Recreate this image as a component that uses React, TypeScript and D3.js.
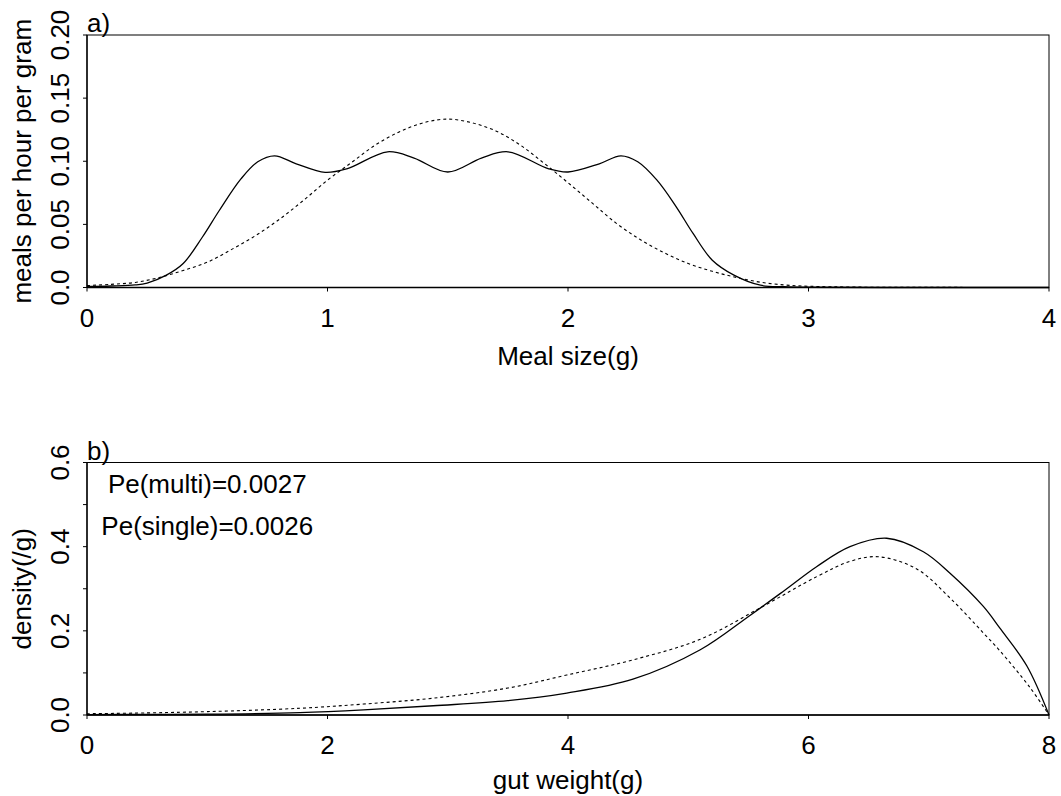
import React from "react";
import * as d3 from "d3";

// ---- Panel a) data: meal size (g) vs meals per hour per gram ----
const mealX = [0, 0.1, 0.2, 0.25, 0.33, 0.4, 0.48, 0.55, 0.64, 0.71, 0.78, 0.87, 0.99, 1.08, 1.25, 1.36, 1.5, 1.64, 1.75, 1.92, 2.0, 2.13, 2.22, 2.29, 2.37, 2.45, 2.52, 2.6, 2.69, 2.8, 2.9, 3.0, 3.5, 4.0];
const mealMulti = [0.0008, 0.0012, 0.002, 0.0035, 0.0098, 0.019, 0.04, 0.061, 0.086, 0.0996, 0.1043, 0.098, 0.0912, 0.094, 0.1075, 0.1025, 0.0915, 0.1025, 0.1075, 0.094, 0.0915, 0.098, 0.1043, 0.0996, 0.085, 0.0639, 0.0428, 0.0216, 0.0098, 0.0018, 0.0006, 0.0002, 0, 0];
const mealSingleX = [0, 0.1, 0.2, 0.3, 0.4, 0.5, 0.6, 0.7, 0.8, 0.9, 1.0, 1.1, 1.2, 1.3, 1.4, 1.5, 1.6, 1.7, 1.8, 1.9, 2.0, 2.1, 2.2, 2.3, 2.4, 2.5, 2.6, 2.7, 2.8, 2.9, 3.0, 3.2, 3.5, 4.0];
const mealSingle = [0.0015, 0.0025, 0.004, 0.0079, 0.0135, 0.02, 0.03, 0.041, 0.054, 0.069, 0.085, 0.099, 0.113, 0.1234, 0.1305, 0.1334, 0.1305, 0.124, 0.113, 0.0985, 0.083, 0.067, 0.051, 0.038, 0.0275, 0.019, 0.0128, 0.008, 0.0042, 0.002, 0.001, 0.0003, 0.0001, 0];
const mealXTicks = [0, 1, 2, 3, 4];
const mealYTicks = [0, 0.05, 0.1, 0.15, 0.2];
const mealYLabels = ["0.0", "0.05", "0.10", "0.15", "0.20"];

// ---- Panel b) data: gut weight (g) vs density ----
const gutMultiX = [0, 0.5, 1, 1.77, 2.3, 2.88, 3.5, 3.99, 4.54, 5.1, 5.51, 5.8, 6.07, 6.345, 6.65, 6.955, 7.177, 7.454, 7.59, 7.815, 8];
const gutMulti = [0.001, 0.0015, 0.002, 0.0055, 0.012, 0.022, 0.034, 0.052, 0.085, 0.155, 0.236, 0.296, 0.353, 0.4, 0.42, 0.388, 0.337, 0.258, 0.207, 0.117, 0];
const gutSingleX = [0, 0.5, 1, 1.77, 2.3, 2.88, 3.5, 3.99, 4.54, 5.1, 5.62, 6.07, 6.345, 6.58, 6.9, 7.177, 7.454, 7.59, 7.84, 8];
const gutSingle = [0.003, 0.005, 0.008, 0.016, 0.026, 0.04, 0.064, 0.095, 0.131, 0.18, 0.258, 0.329, 0.365, 0.376, 0.347, 0.278, 0.195, 0.153, 0.066, 0];
const gutXTicks = [0, 2, 4, 6, 8];
const gutYTicks = [0, 0.1, 0.2, 0.3, 0.4, 0.5, 0.6];
const gutYLabelTicks = [0, 0.2, 0.4, 0.6];
const gutYLabels = ["0.0", "0.2", "0.4", "0.6"];

const peMulti = "Pe(multi)=0.0027";
const peSingle = "Pe(single)=0.0026";

const FONT = "'Liberation Sans', Arial, sans-serif";
const FS = 26;

type PanelProps = {
  top: number;
  bottom: number;
  titleOffset: number;
  xDomain: [number, number];
  yDomain: [number, number];
  xTicks: number[];
  yTicks: number[];
  yLabelTicks: number[];
  yLabels: string[];
  solidX: number[];
  solid: number[];
  dotX: number[];
  dot: number[];
  xTitle: string;
  yTitle: string;
  tag: string;
  children?: (x: d3.ScaleLinear<number, number>, y: d3.ScaleLinear<number, number>) => React.ReactNode;
};

const LEFT = 87;
const RIGHT = 1049;

function Panel(p: PanelProps) {
  const x = d3.scaleLinear().domain(p.xDomain).range([LEFT, RIGHT]);
  const y = d3.scaleLinear().domain(p.yDomain).range([p.bottom, p.top]);
  const line = d3
    .line<[number, number]>()
    .x((d) => x(d[0]))
    .y((d) => Math.min(p.bottom, y(d[1])))
    .curve(d3.curveCatmullRom.alpha(0.5));
  const solidPts = p.solidX.map((v, i) => [v, p.solid[i]] as [number, number]);
  const dotPts = p.dotX.map((v, i) => [v, p.dot[i]] as [number, number]);
  const midY = (p.top + p.bottom) / 2;
  return (
    <g fontFamily={FONT} fontSize={FS} fill="#000">
      <rect x={LEFT} y={p.top} width={RIGHT - LEFT} height={p.bottom - p.top} fill="none" stroke="#000" strokeWidth={1} />
      <line x1={LEFT} x2={RIGHT} y1={p.bottom} y2={p.bottom} stroke="#000" strokeWidth={1.6} />
      <line x1={LEFT} x2={LEFT} y1={p.top} y2={p.bottom} stroke="#000" strokeWidth={1.3} />
      {p.xTicks.map((t) => (
        <g key={"xt" + t}>
          <line x1={x(t)} x2={x(t)} y1={p.bottom} y2={p.bottom + 4} stroke="#000" strokeWidth={1} />
          <text x={x(t)} y={p.bottom + 39} textAnchor="middle">
            {t}
          </text>
        </g>
      ))}
      {p.yTicks.map((t) => (
        <line key={"yt" + t} x1={LEFT - 4} x2={LEFT} y1={y(t)} y2={y(t)} stroke="#000" strokeWidth={1} />
      ))}
      {p.yLabelTicks.map((t, i) => (
        <text key={"yl" + t} transform={`translate(69,${y(t)}) rotate(-90)`} textAnchor="middle">
          {p.yLabels[i]}
        </text>
      ))}
      <text x={(LEFT + RIGHT) / 2} y={p.bottom + p.titleOffset} textAnchor="middle">
        {p.xTitle}
      </text>
      <text transform={`translate(31,${midY}) rotate(-90)`} textAnchor="middle">
        {p.yTitle}
      </text>
      <text x={LEFT} y={p.top - 3}>
        {p.tag}
      </text>
      <path d={line(dotPts) || ""} fill="none" stroke="#000" strokeWidth={1.1} strokeDasharray="3,3" />
      <path d={line(solidPts) || ""} fill="none" stroke="#000" strokeWidth={1.3} />
      {p.children ? p.children(x, y) : null}
    </g>
  );
}

export default function App() {
  return (
    <svg width={1061} height={796} style={{ position: "absolute", left: 0, top: 0, background: "#fff" }}>
      <rect x={0} y={0} width={1061} height={796} fill="#fff" />
      <Panel
        top={35}
        bottom={287.5}
        titleOffset={77}
        xDomain={[0, 4]}
        yDomain={[0, 0.2]}
        xTicks={mealXTicks}
        yTicks={mealYTicks}
        yLabelTicks={mealYTicks}
        yLabels={mealYLabels}
        solidX={mealX}
        solid={mealMulti}
        dotX={mealSingleX}
        dot={mealSingle}
        xTitle="Meal size(g)"
        yTitle="meals per hour per gram"
        tag="a)"
      />
      <Panel
        top={462.5}
        bottom={715}
        titleOffset={74}
        xDomain={[0, 8]}
        yDomain={[0, 0.6]}
        xTicks={gutXTicks}
        yTicks={gutYTicks}
        yLabelTicks={gutYLabelTicks}
        yLabels={gutYLabels}
        solidX={gutMultiX}
        solid={gutMulti}
        dotX={gutSingleX}
        dot={gutSingle}
        xTitle="gut weight(g)"
        yTitle="density(/g)"
        tag="b)"
      >
        {(x, y) => (
          <g>
            <text x={x(1)} y={y(0.55) + 9} textAnchor="middle">
              {peMulti}
            </text>
            <text x={x(1)} y={y(0.45) + 9} textAnchor="middle">
              {peSingle}
            </text>
          </g>
        )}
      </Panel>
    </svg>
  );
}
